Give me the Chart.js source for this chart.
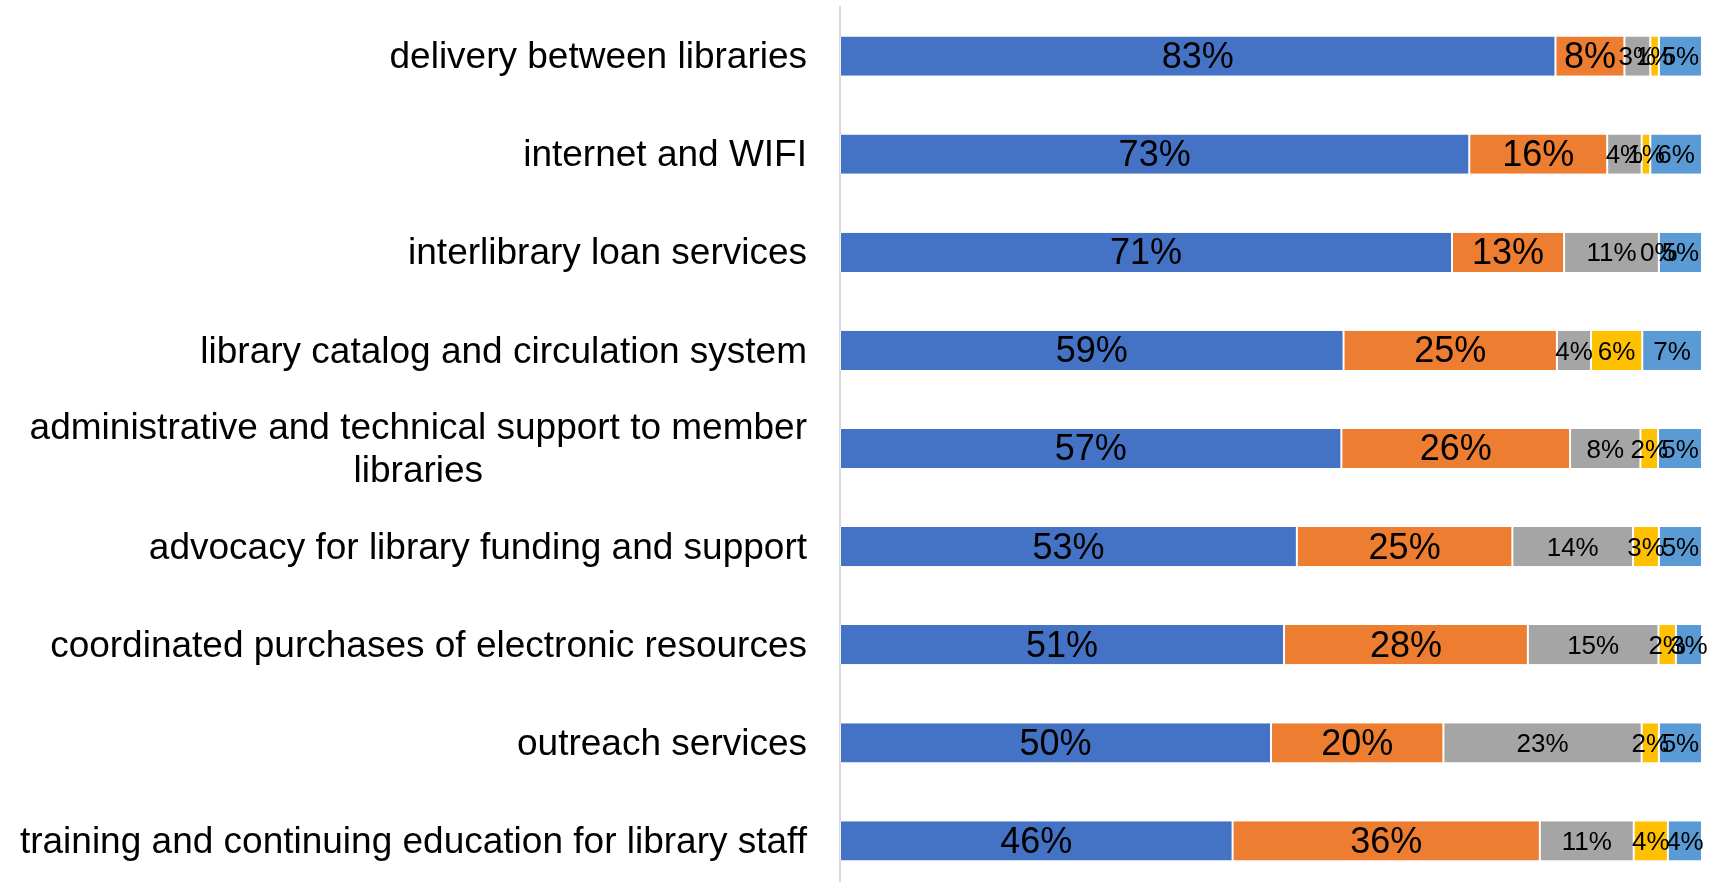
<!DOCTYPE html>
<html>
<head>
<meta charset="utf-8">
<title>Library system services</title>
<script src="https://cdn.jsdelivr.net/npm/chart.js@4/dist/chart.umd.min.js"></script>
<style>
  html, body { margin: 0; padding: 0; background: #fff; overflow: hidden; }
  /* the plot runs a little past the bottom edge of the window */
  #wrap { width: 1723px; height: 890px; }
</style>
</head>
<body>
<div id="wrap"><canvas id="chart"></canvas></div>
<script>
// services, top to bottom
const categories = [
  'delivery between libraries',
  'internet and WIFI',
  'interlibrary loan services',
  'library catalog and circulation system',
  ['administrative and technical support to member', 'libraries'],
  'advocacy for library funding and support',
  'coordinated purchases of electronic resources',
  'outreach services',
  'training and continuing education for library staff'
];

// response shares, in percent (as labelled)
const rating1 = [83, 73, 71, 59, 57, 53, 51, 50, 46];
const rating2 = [8, 16, 13, 25, 26, 25, 28, 20, 36];
const rating3 = [3, 4, 11, 4, 8, 14, 15, 23, 11];
const rating4 = [1, 1, 0, 6, 2, 3, 2, 2, 4];
const rating5 = [5, 6, 5, 7, 5, 5, 3, 5, 4];

const colors = ['#4472C4', '#ED7D31', '#A5A5A5', '#FFC000', '#5B9BD5'];
const FONT = '"Liberation Sans", Arial, sans-serif';

const allSeries = [rating1, rating2, rating3, rating4, rating5];
// each bar is stacked to 100% of its row total
const rowTotals = categories.map((_, i) => allSeries.reduce((s, arr) => s + arr[i], 0));

const datasets = allSeries.map((vals, k) => ({
  data: vals.map((v, i) => v / rowTotals[i] * 100),
  raw: vals,
  backgroundColor: colors[k],
  borderColor: 'rgba(255,255,255,0.55)',
  borderWidth: { left: 1, right: 1, top: 0, bottom: 0 },
  borderSkipped: false,
  labelSize: k < 2 ? 36 : 26,
  barPercentage: 0.4,
  categoryPercentage: 1
}));

const AXIS_WIDTH = 840;
const LABEL_GAP = 33;

// value labels centered in each segment
const segmentLabels = {
  id: 'segmentLabels',
  afterDatasetsDraw(chart) {
    const ctx = chart.ctx;
    ctx.save();
    ctx.fillStyle = '#000';
    ctx.textAlign = 'center';
    ctx.textBaseline = 'middle';
    chart.data.datasets.forEach((ds, di) => {
      ctx.font = ds.labelSize + 'px ' + FONT;
      chart.getDatasetMeta(di).data.forEach((bar, i) => {
        const cx = (bar.x + bar.base) / 2;
        ctx.fillText(ds.raw[i] + '%', cx, bar.y + 2);
      });
    });
    ctx.restore();
  }
};

// category labels: block right-aligned to the axis, lines centered in the block
const categoryLabels = {
  id: 'categoryLabels',
  afterDraw(chart) {
    const ctx = chart.ctx;
    const y = chart.scales.y;
    const lineH = 43;
    ctx.save();
    ctx.fillStyle = '#000';
    ctx.font = '37px ' + FONT;
    ctx.textAlign = 'center';
    ctx.textBaseline = 'middle';
    categories.forEach((label, i) => {
      const lines = Array.isArray(label) ? label : [label];
      const w = Math.max(...lines.map(l => ctx.measureText(l).width));
      const cx = y.right - LABEL_GAP - w / 2;
      const cy = y.getPixelForValue(i);
      lines.forEach((line, j) => {
        ctx.fillText(line, cx, cy + (j - (lines.length - 1) / 2) * lineH + 2);
      });
    });
    ctx.restore();
  }
};

new Chart(document.getElementById('chart'), {
  type: 'bar',
  data: { labels: categories, datasets },
  options: {
    indexAxis: 'y',
    responsive: true,
    maintainAspectRatio: false,
    animation: false,
    layout: { padding: { top: 7, right: 21, bottom: 0, left: 0 } },
    plugins: {
      legend: { display: false },
      tooltip: { enabled: false }
    },
    scales: {
      x: {
        stacked: true,
        min: 0,
        max: 100,
        display: false
      },
      y: {
        stacked: true,
        grid: { display: false, drawTicks: false },
        border: { display: true, color: '#D9D9D9', width: 2 },
        ticks: { display: false },
        afterFit(scale) { scale.width = AXIS_WIDTH; }
      }
    }
  },
  plugins: [segmentLabels, categoryLabels]
});
</script>
</body>
</html>
